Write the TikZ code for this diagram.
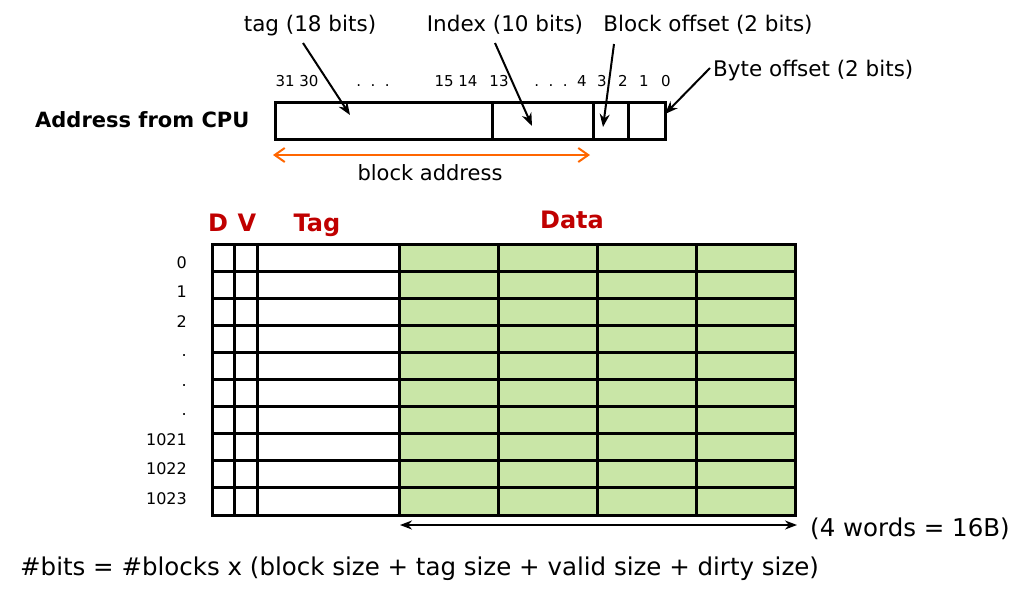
\documentclass[tikz,border=0pt]{standalone}
\usepackage{fontspec}
\setmainfont{DejaVu Sans}
\usetikzlibrary{arrows.meta,positioning}
\definecolor{cellgreen}{RGB}{201,230,167}
\definecolor{hdred}{RGB}{192,0,0}
\definecolor{baorange}{RGB}{255,102,0}

\begin{document}
\begin{tikzpicture}[x=1pt,y=-1pt,>=Stealth,
  every node/.style={inner sep=0pt,font=\fontsize{21.5}{25}\selectfont},
  lbl/.style={anchor=base},
  bitno/.style={anchor=base,font=\fontsize{15}{17}\selectfont},
  rowno/.style={anchor=base east,font=\fontsize{16}{18}\selectfont},
  hdr/.style={anchor=base,text=hdred,font=\fontsize{24}{28}\selectfont\bfseries},
  big/.style={anchor=base west,font=\fontsize{24.5}{28}\selectfont},
  ptr/.style={->,line width=2pt,>={Stealth[length=13pt,width=10pt]}},
  cellline/.style={line width=3pt}]
\useasboundingbox (0,0) rectangle (1028,590);

% address from the CPU
\node[anchor=base west,font=\fontsize{21}{24}\selectfont\bfseries] (cpu) at (35,127) {Address from CPU};
\draw[cellline] (275,102) rectangle (665,139);
\foreach \x in {492,593,628} \draw[cellline] (\x,102) -- (\x,139);
\foreach \t/\x [count=\i] in {31 30/297,.~~.~~./373,15 14/456,13/499,.~~.~~./551,4/582,3/602,2/623,1/644,0/666}
  \node[bitno] (bit\i) at (\x,86) {\t};

\coordinate (tagtip) at (350,115);
\coordinate (idxtip) at (532,126);
\coordinate (boftip) at (603,127);
\coordinate (bytip) at (665,114);
\node[lbl] (taglbl) at (310,31) {tag (18 bits)};
\node[lbl] (idxlbl) at (505,31) {Index (10 bits)};
\node[lbl] (boflbl) at (708,31) {Block offset (2 bits)};
\node[anchor=base west] (bytlbl) at (713,76) {Byte offset (2 bits)};
\draw[ptr] ([shift={(-7,12)}]taglbl.base) -- (tagtip);
\draw[ptr] ([shift={(-10,12)}]idxlbl.base) -- (idxtip);
\draw[ptr] ([shift={(-94,13)}]boflbl.base) -- (boftip);
\draw[ptr] ([shift={(-3,-8)}]bytlbl.base west) -- (bytip);

\coordinate (bal) at (273,155);
\coordinate (bar) at (590,155);
\draw[baorange,line width=2pt,{Straight Barb[length=10pt,width=14pt]}-{Straight Barb[length=10pt,width=14pt]}] (bal) -- (bar);
\node[lbl,font=\fontsize{21}{24}\selectfont] (balbl) at (430,180) {block address};

% cache table
\node[hdr] (dhd) at (218,231) {D};
\node[hdr] (vhd) at (247,231) {V};
\node[hdr] (taghd) at (317,231) {Tag};
\node[hdr] (datahd) at (572,228) {Data};
\fill[cellgreen] (399,244) rectangle (795,515);
\foreach \i in {1,...,9} \draw[cellline] (212,244+27.1*\i) -- (795,244+27.1*\i);
\foreach \x in {234,257,399,498,597,696} \draw[cellline] (\x,244) -- (\x,515);
\draw[cellline] (212,244) rectangle (795,515);
\foreach \t [count=\i] in {0,1,2,.,.,.,1021,1022,1023}
  \node[rowno] (row\i) at (187,238.5+29.5*\i) {\t};

\coordinate (wl) at (400,525);
\coordinate (wr) at (797,525);
\draw[line width=2pt,{Stealth[length=12pt,width=9pt]}-{Stealth[length=12pt,width=9pt]}] (wl) -- (wr);
\node[big] (wlbl) at (810,536) {(4 words = 16B)};
\node[big] (formula) at (20,575) {\#bits = \#blocks x (block size + tag size + valid size + dirty size)};
\end{tikzpicture}
\end{document}
